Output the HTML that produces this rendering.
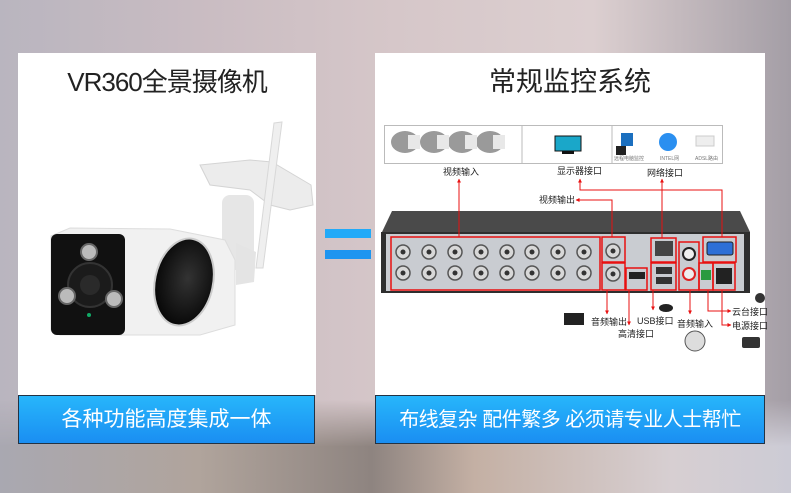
<!DOCTYPE html>
<html><head><meta charset="utf-8"><style>
html,body{margin:0;padding:0;}
body{width:791px;height:493px;overflow:hidden;position:relative;
background:linear-gradient(90deg,#b9b5bf 0%,#c9bcc2 25%,#d6c7c9 50%,#dccfd0 75%,#a49ea6 100%);
font-family:"Liberation Sans","Noto Sans CJK SC",sans-serif;}
.bg2{position:absolute;left:0;top:400px;width:791px;height:93px;background:linear-gradient(90deg,#a9a8b1 0%,#b0a49c 25%,#8e8480 47%,#c4b0a4 60%,#d7cfd2 85%,#cccbd5 100%);-webkit-mask-image:linear-gradient(transparent,#000 50%);mask-image:linear-gradient(transparent,#000 50%);}
.panel{position:absolute;background:#fff;top:53px;height:342px;}
.title{position:absolute;top:13px;width:100%;text-align:center;font-size:27px;color:#222;line-height:32px;}
.bar{position:absolute;top:395px;height:49px;background:linear-gradient(#27b6fb,#1a8ef2);border:1px solid #234;box-sizing:border-box;color:#fff;text-align:center;line-height:48px;font-size:21px;}
svg{position:absolute;left:0;top:0;}
</style></head><body>
<div class="bg2"></div>
<div class="panel" style="left:18px;width:298px;"><div class="title" style="font-size:26px;letter-spacing:-1px">VR360全景摄像机</div></div>
<div class="panel" style="left:375px;width:390px;"><div class="title">常规监控系统</div></div>
<div class="bar" style="left:18px;width:297px;">各种功能高度集成一体</div>
<div class="bar" style="left:375px;width:390px;font-size:20px;letter-spacing:-0.5px">布线复杂 配件繁多 必须请专业人士帮忙</div>
<div style="position:absolute;left:325px;top:229px;width:46px;height:9px;background:#22aaf8"></div>
<div style="position:absolute;left:325px;top:250px;width:46px;height:9px;background:#1e95f0"></div>

<svg width="791" height="493" viewBox="0 0 791 493" font-family="Liberation Sans,Noto Sans CJK SC,sans-serif">
<defs>
<marker id="ar" viewBox="0 0 10 10" refX="9" refY="5" markerWidth="4" markerHeight="4" orient="auto"><path d="M0,0L10,5L0,10z" fill="#e81010"/></marker>
<radialGradient id="lens" cx="0.55" cy="0.45" r="0.6"><stop offset="0" stop-color="#333"/><stop offset="1" stop-color="#050505"/></radialGradient>
</defs>
<!-- camera -->
<path d="M200,165 L250,160 L272,162 L311,185 L313,205 L290,210 L270,205 L250,190 L210,185z" fill="#ececec" stroke="#d4d4d4"/>
<rect x="222" y="195" width="32" height="75" rx="8" fill="#e6e6e6"/>
<path d="M274,123 L282,122 L263,268 L256,268z" fill="#efefef" stroke="#d8d8d8"/>
<path d="M236,243 L256,252 L254,282 L236,285z" fill="#e4e4e4"/>
<path d="M51,236 L70,228 L170,229 L225,240 L235,260 L235,325 L200,335 L60,335 L51,330z" fill="#f1f1f1" stroke="#ddd"/>
<rect x="51" y="234" width="74" height="101" rx="6" fill="#111"/>
<circle cx="90" cy="285" r="22" fill="#1b1b1b" stroke="#333" stroke-width="2"/>
<circle cx="90" cy="285" r="10" fill="#2a2a2a"/>
<circle cx="89" cy="252" r="8" fill="#bbb" stroke="#666" stroke-width="2"/>
<circle cx="67" cy="296" r="8" fill="#bbb" stroke="#666" stroke-width="2"/>
<circle cx="114" cy="299" r="8" fill="#bbb" stroke="#666" stroke-width="2"/>
<circle cx="89" cy="315" r="2" fill="#1a6"/>
<ellipse cx="184" cy="282" rx="29" ry="44" fill="url(#lens)" stroke="#ccc" stroke-width="2" transform="rotate(12 184 282)"/>

<!-- top boxes -->
<rect x="384.5" y="125.5" width="338" height="38" fill="#fff" stroke="#bbb"/>
<line x1="522" y1="126" x2="522" y2="163" stroke="#bbb"/>
<line x1="612" y1="126" x2="612" y2="163" stroke="#bbb"/>
<g fill="#9a9a9a">
<ellipse cx="405" cy="142" rx="14" ry="11"/><ellipse cx="434" cy="142" rx="14" ry="11"/><ellipse cx="462" cy="142" rx="14" ry="11"/><ellipse cx="490" cy="142" rx="14" ry="11"/>
</g>
<g fill="#e8e8e8"><rect x="408" y="135" width="12" height="14"/><rect x="437" y="135" width="12" height="14"/><rect x="465" y="135" width="12" height="14"/><rect x="493" y="135" width="12" height="14"/></g>
<rect x="555" y="136" width="26" height="15" fill="#1aa7c9" stroke="#111"/><rect x="562" y="151" width="12" height="3" fill="#111"/>
<rect x="621" y="133" width="12" height="13" fill="#1b6fbf"/><rect x="616" y="146" width="10" height="9" fill="#222"/>
<circle cx="668" cy="142" r="9" fill="#2a8ff0"/>
<rect x="696" y="136" width="18" height="10" fill="#eee" stroke="#ccc"/>
<g font-size="5" fill="#777"><text x="614" y="160">远程电脑监控</text><text x="660" y="160">INTEL网</text><text x="695" y="160">ADSL路由</text></g>
<g font-size="9" fill="#222"><text x="443" y="175">视频输入</text><text x="557" y="174">显示器接口</text><text x="647" y="176">网络接口</text><text x="539" y="203">视频输出</text></g>

<!-- DVR -->
<path d="M382,232 L392,211 L740,211 L750,232z" fill="#4a4a4a"/>
<rect x="381" y="232" width="369" height="61" fill="#2e2e2e"/>
<rect x="386" y="234" width="358" height="57" fill="#c9ccd1"/>
<g fill="#d8d8d8" stroke="#555" stroke-width="1.5">
<circle cx="403" cy="252" r="7"/><circle cx="429" cy="252" r="7"/><circle cx="455" cy="252" r="7"/><circle cx="481" cy="252" r="7"/><circle cx="507" cy="252" r="7"/><circle cx="532" cy="252" r="7"/><circle cx="558" cy="252" r="7"/><circle cx="584" cy="252" r="7"/>
<circle cx="403" cy="273" r="7"/><circle cx="429" cy="273" r="7"/><circle cx="455" cy="273" r="7"/><circle cx="481" cy="273" r="7"/><circle cx="507" cy="273" r="7"/><circle cx="532" cy="273" r="7"/><circle cx="558" cy="273" r="7"/><circle cx="584" cy="273" r="7"/>
<circle cx="613" cy="251" r="7"/><circle cx="613" cy="274" r="7"/>
</g>
<g fill="#333"><circle cx="403" cy="252" r="2.5"/><circle cx="429" cy="252" r="2.5"/><circle cx="455" cy="252" r="2.5"/><circle cx="481" cy="252" r="2.5"/><circle cx="507" cy="252" r="2.5"/><circle cx="532" cy="252" r="2.5"/><circle cx="558" cy="252" r="2.5"/><circle cx="584" cy="252" r="2.5"/>
<circle cx="403" cy="273" r="2.5"/><circle cx="429" cy="273" r="2.5"/><circle cx="455" cy="273" r="2.5"/><circle cx="481" cy="273" r="2.5"/><circle cx="507" cy="273" r="2.5"/><circle cx="532" cy="273" r="2.5"/><circle cx="558" cy="273" r="2.5"/><circle cx="584" cy="273" r="2.5"/>
<circle cx="613" cy="251" r="2.5"/><circle cx="613" cy="274" r="2.5"/></g>
<rect x="629" y="272" width="16" height="7" fill="#222"/>
<rect x="655" y="241" width="18" height="15" fill="#444"/>
<rect x="656" y="267" width="16" height="7" fill="#333"/><rect x="656" y="277" width="16" height="7" fill="#333"/>
<circle cx="689" cy="254" r="6" fill="#eee" stroke="#222" stroke-width="2"/><circle cx="689" cy="274" r="6" fill="#eee" stroke="#d22" stroke-width="2"/>
<rect x="707" y="242" width="26" height="13" rx="2" fill="#2e6fd6" stroke="#222"/>
<rect x="701" y="270" width="10" height="10" fill="#2a9a40"/>
<rect x="716" y="268" width="16" height="16" fill="#222"/>
<g fill="none" stroke="#e81010" stroke-width="1.5">
<rect x="391" y="237" width="209" height="53"/>
<rect x="602" y="237" width="23" height="25"/><rect x="602" y="263" width="23" height="27"/>
<rect x="626" y="268" width="21" height="22"/>
<rect x="651" y="238" width="25" height="24"/><rect x="651" y="263" width="25" height="27"/>
<rect x="679" y="242" width="20" height="48"/>
<rect x="703" y="237" width="33" height="25"/>
<rect x="699" y="263" width="14" height="27"/><rect x="713" y="263" width="22" height="27"/>
</g>
<g fill="none" stroke="#e81010" stroke-width="1" marker-end="url(#ar)">
<path d="M459,237 V179"/>
<path d="M722,237 V190 H580 V179"/>
<path d="M662,238 V179"/>
<path d="M612,237 V200 H576"/>
<path d="M607,290 V314"/>
<path d="M629,290 V325"/>
<path d="M653,290 V310"/>
<path d="M690,290 V314"/>
<path d="M708,290 V311 H731"/>
<path d="M722,290 V325 H731"/>
</g>
<g font-size="9" fill="#222"><text x="591" y="325">音频输出</text><text x="618" y="337">高清接口</text><text x="637" y="324">USB接口</text><text x="677" y="327">音频输入</text><text x="732" y="315">云台接口</text><text x="732" y="329">电源接口</text></g>
<rect x="564" y="313" width="20" height="12" fill="#222"/>
<ellipse cx="666" cy="308" rx="7" ry="4" fill="#222"/>
<circle cx="760" cy="298" r="5" fill="#333"/>
<circle cx="695" cy="341" r="10" fill="#ddd" stroke="#555"/>
<rect x="742" y="337" width="18" height="11" rx="2" fill="#333"/>
</svg>
</body></html>
